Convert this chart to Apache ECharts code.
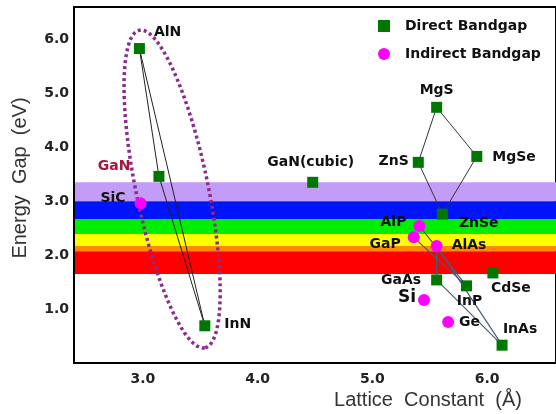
<!DOCTYPE html>
<html>
<head>
<meta charset="utf-8">
<script src="https://cdn.jsdelivr.net/npm/echarts@6/dist/echarts.min.js"></script>
<style>
html, body {margin: 0; padding: 0; background: #fff;}
#main {width: 556px; height: 414px;}
</style>
</head>
<body>
<div id="main"></div>
<script>
// direct bandgap compounds: lattice constant (A) / gap (eV)
var directNames = ['AlN', 'GaN', 'InN', 'GaN(cubic)', 'MgS', 'ZnS', 'MgSe', 'ZnSe', 'GaAs', 'InP', 'CdSe', 'InAs'];
var directLattice = [2.97, 3.14, 3.54, 4.48, 5.56, 5.40, 5.91, 5.61, 5.56, 5.82, 6.05, 6.13];
var directGap = [5.83, 3.46, 0.69, 3.35, 4.74, 3.72, 3.83, 2.76, 1.54, 1.43, 1.67, 0.33];

// indirect bandgap
var indirectNames = ['SiC', 'AlP', 'GaP', 'AlAs', 'Si', 'Ge'];
var indirectLattice = [2.98, 5.41, 5.36, 5.56, 5.45, 5.66];
var indirectGap = [2.96, 2.54, 2.33, 2.17, 1.17, 0.76];

// alloy tie lines
var nitrideLinks = [['AlN', 'GaN'], ['GaN', 'InN'], ['AlN', 'InN']];
var chalcoLinks = [['MgS', 'ZnS'], ['MgS', 'MgSe'], ['ZnS', 'ZnSe'], ['MgSe', 'ZnSe']];
var arsenideLinks = [['AlP', 'InP'], ['GaP', 'InP'], ['AlAs', 'GaAs'], ['AlAs', 'InAs'], ['GaAs', 'InAs']];

// visible spectrum bands (eV)
var bandLow = [3.0, 2.67, 2.39, 2.17, 2.07, 1.65];
var bandHigh = [3.35, 3.0, 2.67, 2.39, 2.17, 2.07];
var bandColors = ['#c29cf7', '#0014fa', '#00ee00', '#ffff00', '#ff8a00', '#ff0000'];

var xTicks = [3, 4, 5, 6];
var yTicks = [1, 2, 3, 4, 5, 6];

// ends of the dotted ellipse around the nitrides
var ellipseEnds = [2.97, 6.17, 3.54, 0.28];

var FONT = 'DejaVu Sans';

// label placement: position, dx, dy
var labelLayout = {
    'AlN': ['right', 4, -16],
    'GaN': ['left', -18, -10],
    'InN': ['right', 9, -1],
    'GaN(cubic)': ['top', -2, -2],
    'MgS': ['top', 0, 1],
    'ZnS': ['left', 1, -1],
    'MgSe': ['right', 5, 1],
    'ZnSe': ['right', 6, 9],
    'GaAs': ['left', -5, 0],
    'InP': ['bottom', 3, -2],
    'CdSe': ['bottom', 18, -2],
    'InAs': ['top', 18, 2],
    'SiC': ['left', -4, -5],
    'AlP': ['left', -2, -4],
    'GaP': ['left', -2, 7],
    'AlAs': ['right', 4, -1],
    'Si': ['left', 3, -2],
    'Ge': ['right', 0, 0]
};

var coords = {};
function makePoints(names, xs, ys) {
    return names.map(function (n, i) {
        coords[n] = [xs[i], ys[i]];
        var l = labelLayout[n];
        var lab = {position: l[0], offset: [l[1], l[2]]};
        if (n === 'GaN') lab.color = '#a3173d';
        if (n === 'Si') lab.fontSize = 17;
        return {name: n, value: [xs[i], ys[i]], label: lab};
    });
}
var directData = makePoints(directNames, directLattice, directGap);
var indirectData = makePoints(indirectNames, indirectLattice, indirectGap);

function linkData(links) {
    return links.map(function (p) {
        return {coords: [coords[p[0]], coords[p[1]]]};
    });
}

var pointLabel = {
    show: true,
    formatter: '{b}',
    fontFamily: FONT,
    fontWeight: 'bold',
    fontSize: 14,
    color: '#111'
};

var myChart = echarts.init(document.getElementById('main'));
myChart.setOption({
    animation: false,
    grid: {left: 74, right: -18, top: 7, bottom: 51, show: true, borderColor: '#000', borderWidth: 2},
    legend: {
        orient: 'vertical',
        left: 373,
        top: 14,
        itemWidth: 12,
        itemHeight: 12,
        itemGap: 14,
        data: [{name: 'Direct Bandgap', icon: 'rect'}, {name: 'Indirect Bandgap', icon: 'circle'}],
        textStyle: {fontFamily: FONT, fontWeight: 'bold', fontSize: 14, color: '#111', padding: [0, 0, 0, 10]}
    },
    xAxis: {
        type: 'value',
        min: 2.4,
        max: 6.6,
        z: 5,
        splitLine: {show: false},
        axisTick: {show: false},
        axisLine: {lineStyle: {color: '#000', width: 2}},
        axisLabel: {
            customValues: xTicks,
            margin: 9,
            fontFamily: FONT, fontWeight: 'bold', fontSize: 14, color: '#222',
            formatter: function (v) { return v.toFixed(1); }
        }
    },
    yAxis: {
        type: 'value',
        min: 0,
        max: 6.6,
        z: 5,
        splitLine: {show: false},
        axisTick: {show: false},
        axisLine: {lineStyle: {color: '#000', width: 2}},
        axisLabel: {
            customValues: yTicks,
            margin: 5,
            fontFamily: FONT, fontWeight: 'bold', fontSize: 14, color: '#222',
            formatter: function (v) { return v.toFixed(1); }
        }
    },
    graphic: [
        {
            type: 'text', x: 428, y: 400,
            style: {text: 'Lattice  Constant  (Å)', fontFamily: 'Liberation Sans', fontSize: 20, fill: '#333', textAlign: 'center', textVerticalAlign: 'middle'}
        },
        {
            type: 'text', x: 20, y: 178, rotation: Math.PI / 2,
            style: {text: 'Energy  Gap  (eV)', fontFamily: 'Liberation Sans', fontSize: 20, fill: '#333', textAlign: 'center', textVerticalAlign: 'middle'}
        }
    ],
    series: [
        {
            // colour bands
            type: 'scatter',
            data: [],
            z: 1,
            markArea: {
                silent: true,
                data: bandLow.map(function (lo, i) {
                    return [{yAxis: lo, itemStyle: {color: bandColors[i], opacity: 1}}, {yAxis: bandHigh[i]}];
                })
            }
        },
        {
            type: 'custom',
            z: 2,
            silent: true,
            data: [ellipseEnds],
            renderItem: function (params, api) {
                var a = api.coord([api.value(0), api.value(1)]);
                var b = api.coord([api.value(2), api.value(3)]);
                var cx = (a[0] + b[0]) / 2, cy = (a[1] + b[1]) / 2;
                var semi = Math.sqrt((b[0] - a[0]) * (b[0] - a[0]) + (b[1] - a[1]) * (b[1] - a[1])) / 2;
                var ang = Math.atan2(b[1] - a[1], b[0] - a[0]);
                var minor = 36;
                var pts = [];
                for (var k = 0; k < 90; k++) {
                    var t = k / 90 * Math.PI * 2;
                    var u = semi * Math.cos(t), v = minor * Math.sin(t);
                    pts.push([cx + u * Math.cos(ang) - v * Math.sin(ang), cy + u * Math.sin(ang) + v * Math.cos(ang)]);
                }
                return {
                    type: 'polygon',
                    shape: {points: pts},
                    style: {fill: 'none', stroke: '#8a2b8e', lineWidth: 3.5, lineDash: [3, 3]}
                };
            }
        },
        {
            type: 'lines', coordinateSystem: 'cartesian2d', z: 3, silent: true,
            data: linkData(nitrideLinks),
            lineStyle: {color: '#222', width: 1, opacity: 1}
        },
        {
            type: 'lines', coordinateSystem: 'cartesian2d', z: 3, silent: true,
            data: linkData(chalcoLinks),
            lineStyle: {color: '#333', width: 1, opacity: 1}
        },
        {
            type: 'lines', coordinateSystem: 'cartesian2d', z: 3, silent: true,
            data: linkData(arsenideLinks),
            lineStyle: {color: '#4a5b7a', width: 1.2, opacity: 1}
        },
        {
            name: 'Direct Bandgap',
            type: 'scatter',
            z: 4,
            symbol: 'rect',
            symbolSize: 11,
            itemStyle: {color: '#007800', opacity: 1},
            label: pointLabel,
            data: directData
        },
        {
            name: 'Indirect Bandgap',
            type: 'scatter',
            z: 4,
            symbol: 'circle',
            symbolSize: 12,
            itemStyle: {color: '#ff00ff', opacity: 1},
            label: pointLabel,
            data: indirectData
        }
    ]
});
</script>
</body>
</html>
